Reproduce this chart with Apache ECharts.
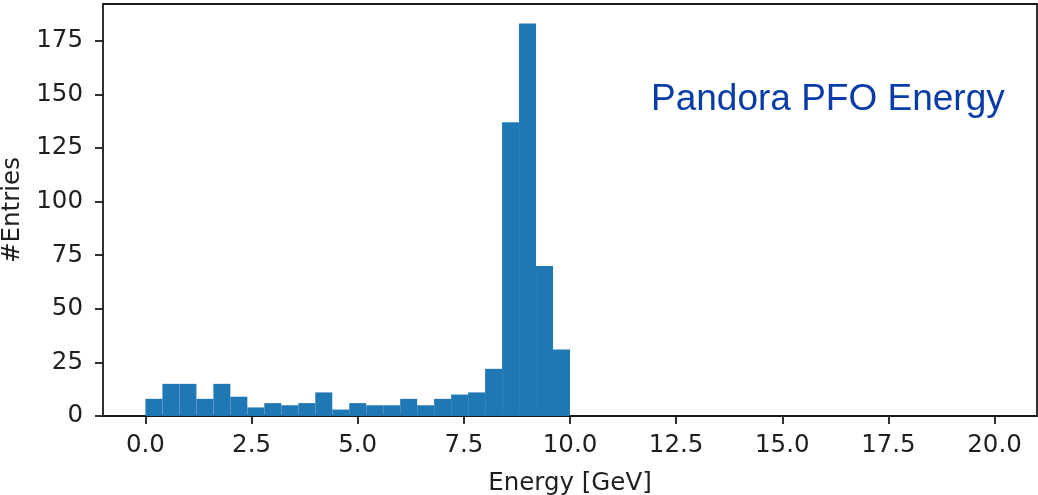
<!DOCTYPE html>
<html>
<head>
<meta charset="utf-8">
<script src="https://cdn.jsdelivr.net/npm/echarts@6/dist/echarts.min.js"></script>
<style>
html,body{margin:0;padding:0;background:#fff;}
#chart{width:1038px;height:495px;}
</style>
</head>
<body>
<div id="chart"></div>
<script>
// Histogram of Pandora PFO energy, bin width 0.4 GeV
const binEdges = [0.0, 0.4, 0.8, 1.2, 1.6, 2.0, 2.4, 2.8, 3.2, 3.6, 4.0, 4.4, 4.8, 5.2, 5.6, 6.0, 6.4, 6.8, 7.2, 7.6, 8.0, 8.4, 8.8, 9.2, 9.6, 10.0];
const counts   = [8, 15, 15, 8, 15, 9, 4, 6, 5, 6, 11, 3, 6, 5, 5, 8, 5, 8, 10, 11, 22, 137, 183, 70, 31];
const xTicks = [0, 2.5, 5, 7.5, 10, 12.5, 15, 17.5, 20];
const yTicks = [0, 25, 50, 75, 100, 125, 150, 175];
const titleText = 'Pandora PFO Energy';
const xName = 'Energy [GeV]';
const yName = '#Entries';

const data = counts.map((c, i) => [binEdges[i], binEdges[i + 1], c]);

const chart = echarts.init(document.getElementById('chart'), null, {renderer: 'canvas'});
const tickFont = {fontFamily: 'DejaVu Sans', fontSize: 24.5, color: '#1f1f1f'};

chart.setOption({
  animation: false,
  backgroundColor: '#fff',
  title: {
    text: titleText,
    left: 651, top: 81, padding: 0,
    textStyle: {fontFamily: 'Liberation Sans', fontSize: 37, fontWeight: 'normal', color: '#0a3ca8'}
  },
  grid: {
    left: 103, top: 4, width: 934, height: 412,
    outerBoundsMode: 'none', containLabel: false,
    show: true, borderColor: '#1a1a1a', borderWidth: 1.8, backgroundColor: 'transparent'
  },
  xAxis: {
    type: 'value', min: -1, max: 21,
    name: xName, nameLocation: 'middle', nameGap: 55,
    nameTextStyle: {fontFamily: 'DejaVu Sans', fontSize: 24.5, color: '#1f1f1f'},
    axisLine: {show: false, onZero: false},
    splitLine: {show: false},
    axisTick: {show: true, customValues: xTicks, length: 8, lineStyle: {color: '#1a1a1a', width: 1.8}},
    axisLabel: Object.assign({customValues: xTicks, margin: 17, formatter: v => Number(v).toFixed(1)}, tickFont)
  },
  yAxis: {
    type: 'value', min: 0, max: 192.15,
    name: yName, nameLocation: 'middle', nameGap: 76, nameRotate: 90,
    nameTextStyle: {fontFamily: 'DejaVu Sans', fontSize: 24.5, color: '#1f1f1f'},
    axisLine: {show: false, onZero: false},
    splitLine: {show: false},
    axisTick: {show: true, customValues: yTicks, length: 8, lineStyle: {color: '#1a1a1a', width: 1.8}},
    axisLabel: Object.assign({customValues: yTicks, margin: 20}, tickFont)
  },
  series: [{
    type: 'custom',
    data: data,
    encode: {x: [0, 1], y: 2},
    clip: true,
    renderItem: function (params, api) {
      const x0 = api.value(0), x1 = api.value(1), y = api.value(2);
      const pTop = api.coord([x0, y]);
      const pBot = api.coord([x1, 0]);
      return {
        type: 'rect',
        shape: {x: pTop[0], y: pTop[1], width: pBot[0] - pTop[0], height: pBot[1] - pTop[1]},
        style: {fill: '#1f77b4', stroke: null}
      };
    }
  }]
});
</script>
</body>
</html>
